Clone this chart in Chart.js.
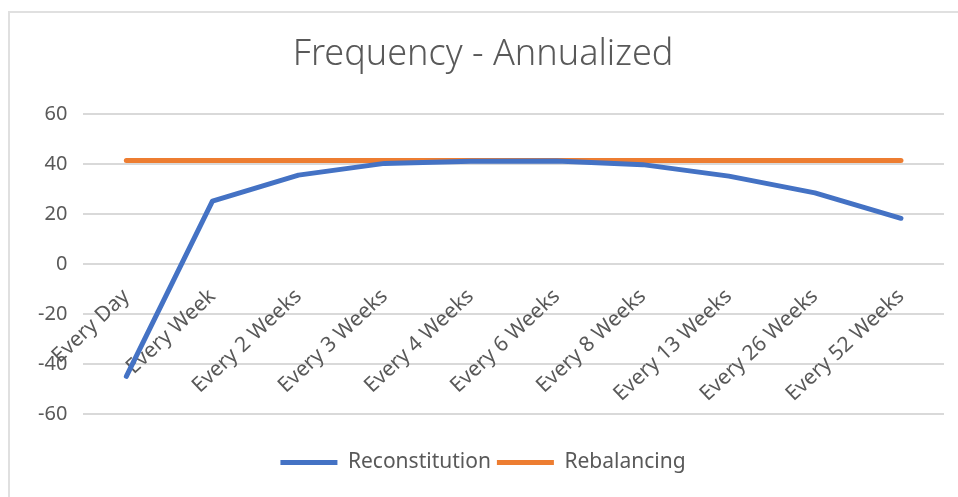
<!DOCTYPE html>
<html>
<head>
<meta charset="utf-8">
<script src="https://cdn.jsdelivr.net/npm/chart.js@4/dist/chart.umd.min.js"></script>
<style>
  html, body { margin: 0; padding: 0; background: #fff; }
  #wrap { position: relative; width: 958px; height: 497px; overflow: hidden; }
  #frame { position: absolute; left: 8px; top: 11px; width: 2000px; height: 2000px;
           border-top: 2px solid #e0e0e0; border-left: 2px solid #e0e0e0; }
  canvas { position: absolute; left: 0; top: 0; }
</style>
</head>
<body>
<div id="wrap">
  <div id="frame"></div>
  <canvas id="c" width="958" height="497"></canvas>
</div>
<script>
const categories = ['Every Day', 'Every Week', 'Every 2 Weeks', 'Every 3 Weeks', 'Every 4 Weeks',
                    'Every 6 Weeks', 'Every 8 Weeks', 'Every 13 Weeks', 'Every 26 Weeks', 'Every 52 Weeks'];
const reconstitution = [-45, 25.2, 35.6, 40.3, 41.2, 41.3, 39.8, 35.2, 28.5, 18.3];
const rebalancing = [41.5, 41.5, 41.5, 41.5, 41.5, 41.5, 41.5, 41.5, 41.5, 41.5];
const yMin = -60, yMax = 60, yStep = 20;

const textColor = '#595959';
const gridColor = '#d9d9d9';
const fontFamily = '"Noto Sans", "Open Sans", sans-serif';

new Chart(document.getElementById('c'), {
  type: 'line',
  data: {
    labels: categories,
    datasets: [
      {
        label: 'Reconstitution',
        data: reconstitution,
        borderColor: '#4472C4',
        backgroundColor: '#4472C4',
        borderWidth: 5,
        borderCapStyle: 'round',
        borderJoinStyle: 'round',
        pointRadius: 0,
        tension: 0
      },
      {
        label: 'Rebalancing',
        data: rebalancing,
        borderColor: '#ED7D31',
        backgroundColor: '#ED7D31',
        borderWidth: 5,
        borderCapStyle: 'round',
        borderJoinStyle: 'round',
        pointRadius: 0,
        tension: 0
      }
    ]
  },
  options: {
    responsive: false,
    animation: false,
    layout: { padding: { left: 22, right: 14, top: 0, bottom: 14 } },
    plugins: {
      title: {
        display: true,
        text: 'Frequency - Annualized',
        color: textColor,
        font: { family: fontFamily, size: 36, weight: 300 },
        padding: { top: 33, bottom: 38 }
      },
      legend: {
        position: 'bottom',
        // empty legend title only reserves space between the plot and the legend row
        title: { display: true, text: '', font: { size: 1 }, padding: { top: 0, bottom: 31 } },
        labels: {
          color: textColor,
          font: { family: fontFamily, size: 21 },
          usePointStyle: true,
          pointStyle: 'line',
          pointStyleWidth: 57,
          padding: 6
        }
      },
      tooltip: { enabled: false }
    },
    scales: {
      x: {
        position: { y: 0 },
        offset: true,
        grid: { display: false },
        border: { display: false },
        ticks: {
          color: textColor,
          font: { family: fontFamily, size: 21 },
          minRotation: 43,
          maxRotation: 43,
          padding: 12,
          autoSkip: false
        }
      },
      y: {
        min: yMin,
        max: yMax,
        grid: { color: gridColor, lineWidth: 2, drawTicks: false },
        border: { display: false },
        ticks: {
          stepSize: yStep,
          color: textColor,
          font: { family: fontFamily, size: 20 },
          padding: 16
        }
      }
    }
  }
});
</script>
</body>
</html>
